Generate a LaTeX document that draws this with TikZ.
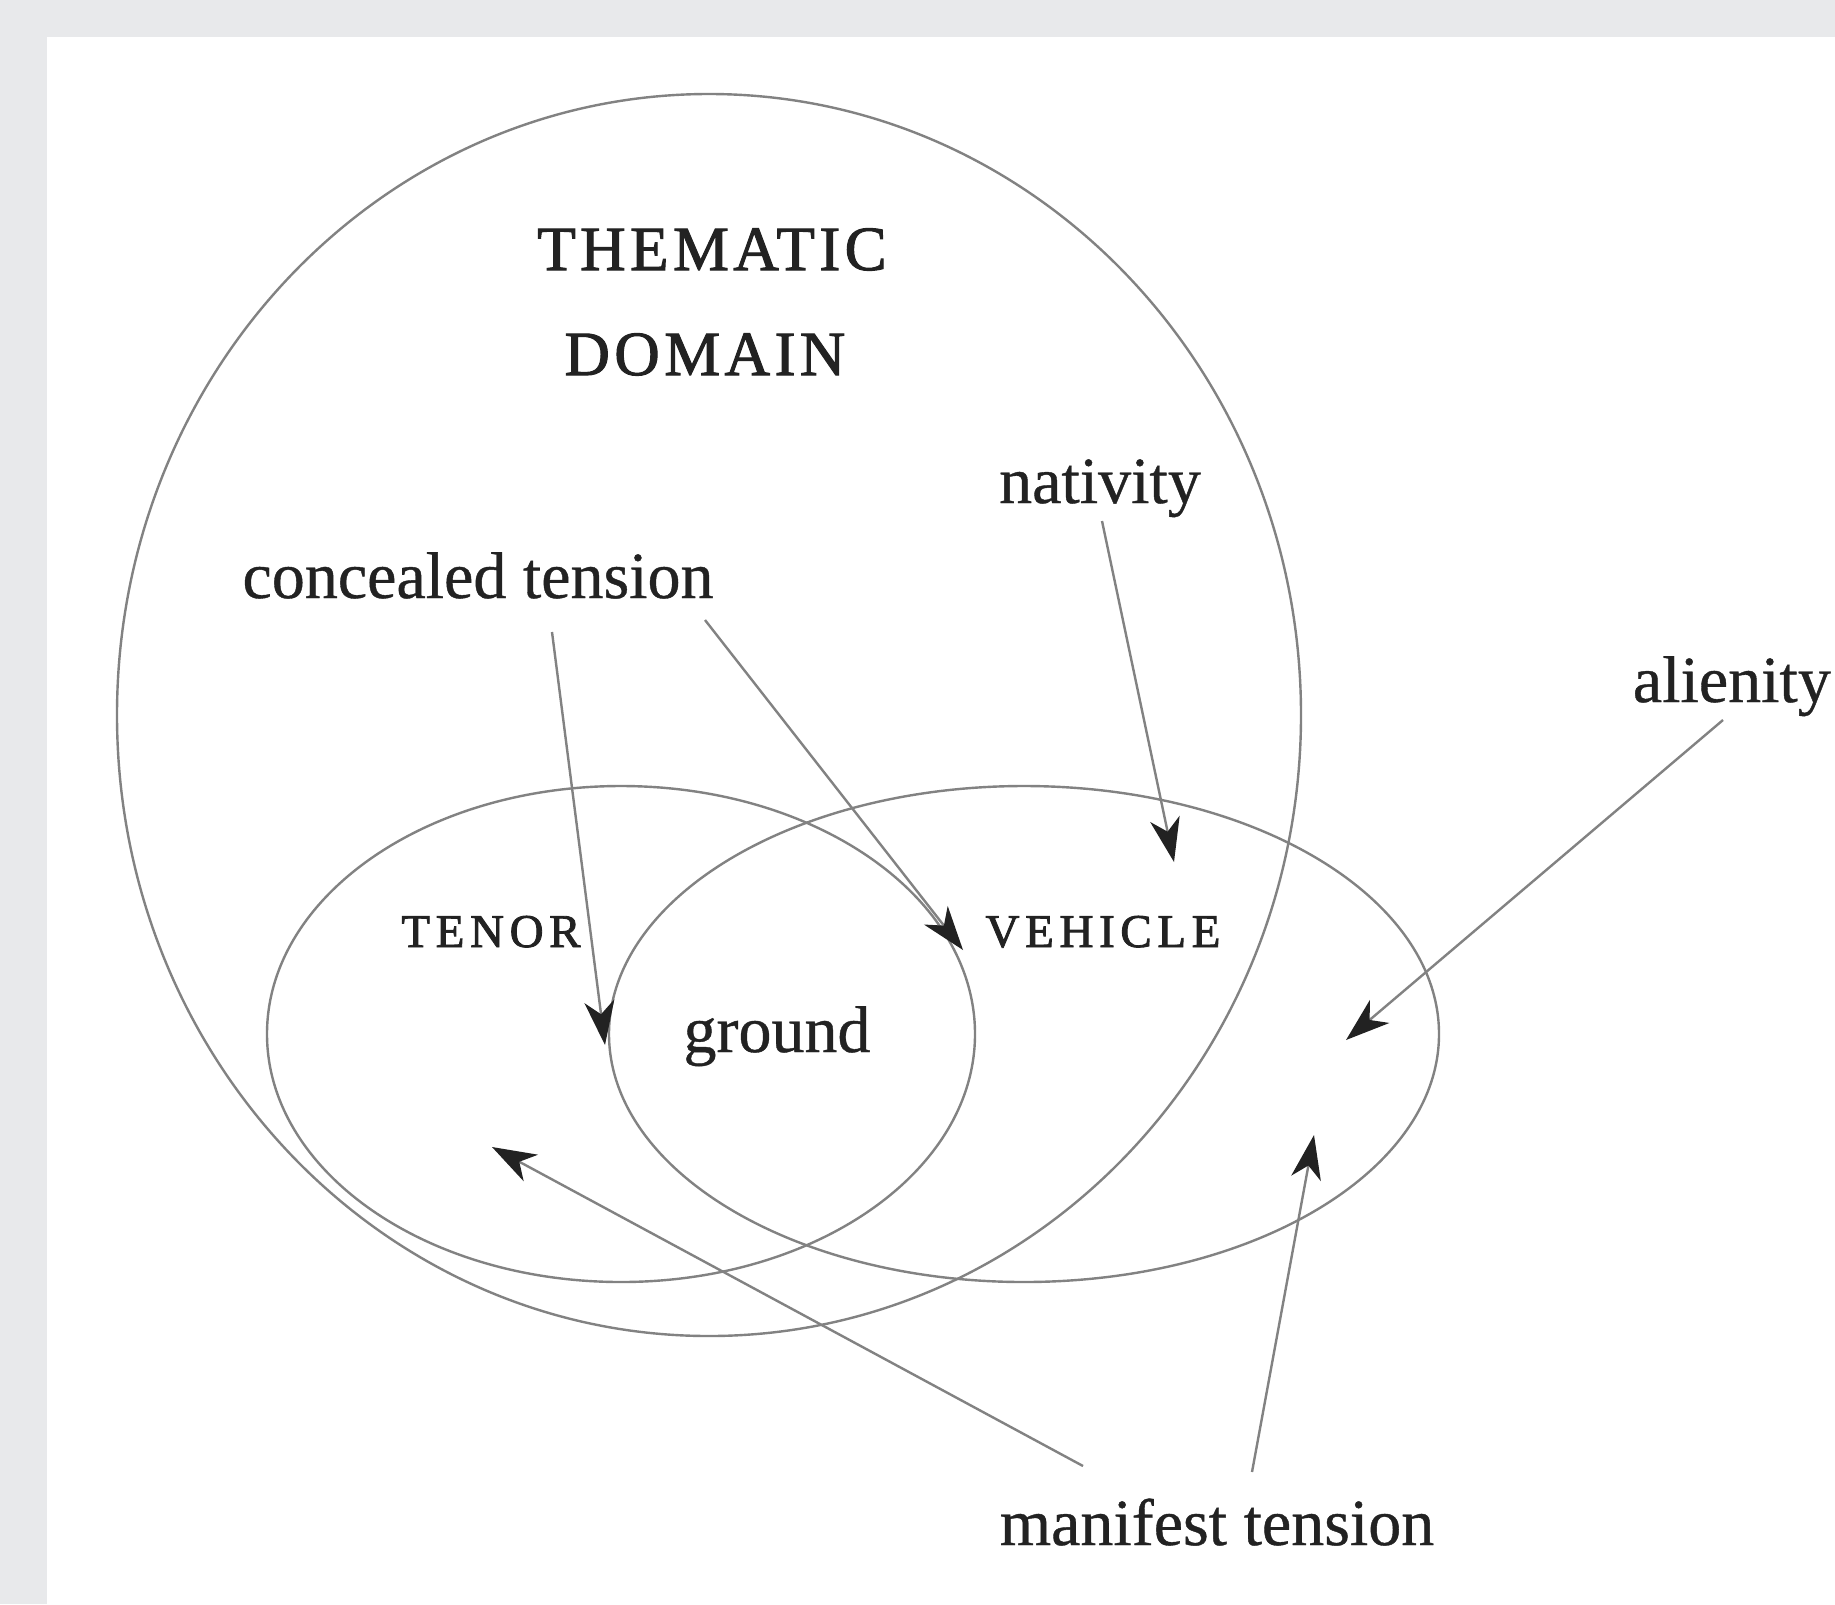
\documentclass[tikz,border=0pt]{standalone}
\usepackage{fontspec}
\setmainfont{Liberation Serif}[FakeBold=0.6]
\newfontfamily\bodyfont[FakeBold=0.6]{Liberation Serif}
\newfontfamily\spacedcaps[LetterSpace=7,FakeBold=1.6]{Liberation Serif}
\newfontfamily\widecaps[LetterSpace=12,FakeBold=1.8]{Liberation Serif}
\usetikzlibrary{arrows.meta,shapes.geometric}
\definecolor{bggray}{HTML}{E8E9EB}
\definecolor{linegray}{HTML}{828282}
\definecolor{inkdark}{HTML}{222222}
\tikzset{
  region/.style={ellipse, draw=linegray, line width=2.4pt, inner sep=0pt},
  lbl/.style={text=inkdark, inner sep=0pt, anchor=base, font=\fontsize{66}{70}\bodyfont},
  bigcaps/.style={text=inkdark, inner sep=0pt, anchor=base, font=\fontsize{63}{66}\spacedcaps},
  smallcaps/.style={text=inkdark, inner sep=0pt, anchor=base, font=\fontsize{47}{50}\widecaps},
  pointer/.style={draw=linegray, line width=2.4pt,
    -{Stealth[length=44pt, width=30pt, inset=13pt, fill=inkdark, color=inkdark]}}
}
\begin{document}
\begin{tikzpicture}[x=1pt,y=-1pt]
\useasboundingbox (0,0) rectangle (1835,1604);
\fill[bggray] (0,0) rectangle (1835,1604);
\fill[white] (47,37) rectangle (1835,1604);

% regions
\node[region, minimum width=1184pt, minimum height=1242pt] (domain) at (709,715) {};
\node[region, minimum width=708pt, minimum height=496pt] (tenorreg) at (621,1034) {};
\node[region, minimum width=830pt, minimum height=496pt] (vehiclereg) at (1024,1034) {};

% labels
\node[bigcaps] (thematic) at (712,270) {THEMATIC};
\node[bigcaps] (domainlbl) at (705,375) {DOMAIN};
\node[lbl] (nativity) at (1100,503) {nativity};
\node[lbl] (concealed) at (478,598) {concealed tension};
\node[lbl, anchor=base east] (alienity) at (1831,702) {alienity};
\node[smallcaps] (tenor) at (491,947) {TENOR};
\node[smallcaps] (vehicle) at (1103,947) {VEHICLE};
\node[lbl] (ground) at (777,1052) {ground};
\node[lbl] (manifest) at (1217,1545) {manifest tension};

% connector end points
\coordinate (c1s) at (552,632);
\coordinate (c1t) at (605,1045);
\coordinate (c2s) at (705,620);
\coordinate (c2t) at (963,950);
\coordinate (ns) at (1102,521);
\coordinate (nt) at (1174,862);
\coordinate (as) at (1723,720);
\coordinate (at) at (1346,1040);
\coordinate (m1s) at (1083,1466);
\coordinate (m1t) at (492,1147);
\coordinate (m2s) at (1252,1472);
\coordinate (m2t) at (1314,1135);

% connectors
\draw[pointer] (c1s) -- (c1t);
\draw[pointer] (c2s) -- (c2t);
\draw[pointer] (ns) -- (nt);
\draw[pointer] (as) -- (at);
\draw[pointer] (m1s) -- (m1t);
\draw[pointer] (m2s) -- (m2t);
\end{tikzpicture}
\end{document}
